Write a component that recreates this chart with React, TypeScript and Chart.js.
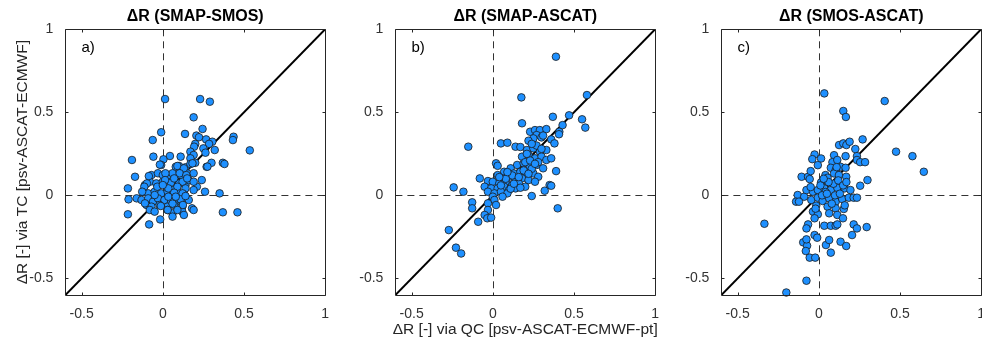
import { useEffect, useRef } from "react";
import { Chart, registerables } from "chart.js";
Chart.register(...registerables);

const FONT = "'Liberation Sans', Arial, Helvetica, sans-serif";

const tickValues = [-0.5, 0, 0.5, 1];
const axisMin = -0.6;
const axisMax = 1;
const panelTitles = ["ΔR (SMAP-SMOS)", "ΔR (SMAP-ASCAT)", "ΔR (SMOS-ASCAT)"];
const panelLetters = ["a)", "b)", "c)"];
const yAxisTitle = "ΔR [-] via TC [psv-ASCAT-ECMWF]";
const xAxisTitle = "ΔR [-] via QC [psv-ASCAT-ECMWF-pt]";

// Panel a) SMAP-SMOS
const smapSmosX = [
  0.014, 0.23, 0.29, 0.19, 0.245, -0.01, 0.137, 0.207, 0.223, 0.436, 0.432, -0.062, 0.267, 0.305, 0.285, 0.2, 0.32, 0.536, 0.193, 0.17, 0.25, 0.263, 0.19, -0.19, -0.058, 0.044, 0.004, 0.11, 0.17,
  -0.01, 0.08, 0.1, 0.14, 0.17, 0.2, 0.27, 0.3, 0.37, 0.38,
  -0.07, -0.03, 0, 0.03, 0.06, 0.11, 0.15, 0.19, 0.24, -0.171,
  -0.11, -0.08, -0.04, 0, 0.05, 0.1, 0.14, 0.16, 0.21,
  -0.12, -0.09, -0.05, -0.01, 0.03, 0.06, 0.09, 0.13, 0.19, 0.26, 0.35,
  -0.161, -0.131, -0.09, -0.06, -0.03, 0.01, 0.05, 0.08, 0.12, 0.16,
  -0.1, -0.07, -0.02, 0.03, 0.07, 0.12, 0.18, 0.19,
  -0.08, -0.05, 0.03, 0.06, 0.12,
  -0.215, -0.211, -0.215, -0.084, -0.016, 0.37, 0.46,
  0.275, 0.183, -0.018, 0.09, 0.13, -0.086, 0.016, 0.104, 0.145, 0.19, -0.098, 0.05, 0.122, -0.114, -0.034, 0.034, 0.09, 0.14, -0.127, 0.07, 0.122, 0.052, 0.11, -0.11, 0.06, 0.124, -0.012, 0.03, 0.09, 0.06, 0.13, -0.05, 0.034, 0.08, 0.14, 0.014, 0.07, 0.15, 0,
];
const smapSmosY = [
  0.58, 0.58, 0.564, 0.47, 0.4, 0.38, 0.37, 0.36, 0.35, 0.353, 0.333, 0.333, 0.337, 0.323, 0.31, 0.31, 0.273, 0.271, 0.293, 0.263, 0.283, 0.257, 0.243, 0.213, 0.233, 0.237, 0.217, 0.233, 0.223,
  0.183, 0.172, 0.177, 0.169, 0.189, 0.196, 0.172, 0.196, 0.196, 0.189,
  0.122, 0.133, 0.122, 0.112, 0.133, 0.122, 0.133, 0.133, 0.092, 0.112,
  0.062, 0.082, 0.072, 0.082, 0.082, 0.072, 0.062, 0.092, 0.052,
  0.022, 0.012, 0.022, 0.012, 0.022, 0.032, 0.022, 0.012, 0.032, 0.022, 0.012,
  -0.018, -0.028, -0.018, -0.038, -0.018, -0.028, -0.018, -0.038, -0.018, -0.028,
  -0.058, -0.068, -0.058, -0.068, -0.058, -0.068, -0.078, -0.088,
  -0.088, -0.098, -0.088, -0.108, -0.098,
  0.042, -0.024, -0.114, -0.175, -0.145, -0.102, -0.102,
  0.173, 0.193, 0.185, 0.177, 0.163, 0.116, 0.133, 0.133, 0.122, 0.082, 0.072, 0.076, 0.082, 0.052, 0.052, 0.042, 0.052, 0.042, 0.022, 0.016, 0.012, -0.034, -0.024, -0.048, -0.05, -0.058, -0.064, -0.088, -0.088, -0.128, -0.118, 0.002, -0.008, -0.008, -0.004, 0.092, 0.102, 0.102, 0.062,
];

// Panel b) SMAP-ASCAT
const smapAscatX = [
  0.23, 0.26, 0.29, 0.33, 0.27, 0.3, 0.25, 0.22, 0.36, 0.38, 0.41, 0.43, 0.47, 0.55, 0.57, 0.58, 0.389, 0.176, 0.18, 0.37, 0.05, 0.09, 0.14, 0.17, -0.151, 0.408,
  0.21, 0.25, 0.29, 0.33,
  0.18, 0.22, 0.26, 0.3, 0.33, 0.36,
  0.15, 0.19, 0.23, 0.27, 0.31, 0.11,
  0.07, 0.13, 0.17, 0.21, 0.25, 0.28, 0.39,
  0.03, 0.06, 0.1, 0.14, 0.18, 0.22, 0.26,
  0.02, 0.03, -0.08,
  -0.03, 0, 0.04, 0.08, 0.12, 0.16, 0.2, 0.35,
  -0.05, -0.01, 0.03, 0.07, 0.1, 0.14, 0.17,
  -0.03, 0.01, 0.05, 0.09, 0.06, 0,
  0.01, 0.02, -0.03, -0.03, -0.05, -0.034, -0.01, -0.09,
  -0.241, -0.181, -0.127, -0.127, -0.271, -0.227, -0.195,
  0.24, 0.32, 0.36, 0.4,
  0.12, 0.2, 0.23, 0.08, 0.16, 0.24, 0.28, 0.05, 0.11, 0.19, 0.21, 0.27, 0.24, 0.31, 0.13, 0.04, 0.09, 0.22, 0.26, 0.3,
];
const smapAscatY = [
  0.383, 0.393, 0.393, 0.399, 0.363, 0.349, 0.343, 0.329, 0.337, 0.313, 0.383, 0.423, 0.482, 0.458, 0.408, 0.604, 0.835, 0.59, 0.434, 0.473, 0.313, 0.317, 0.293, 0.291, 0.293, 0.368,
  0.273, 0.283, 0.263, 0.273,
  0.233, 0.243, 0.223, 0.233, 0.213, 0.223,
  0.183, 0.193, 0.173, 0.183, 0.163, 0.163,
  0.142, 0.132, 0.142, 0.122, 0.132, 0.112, 0.146,
  0.122, 0.102, 0.112, 0.092, 0.102, 0.092, 0.082,
  0.193, 0.178, 0.102,
  0.086, 0.082, 0.072, 0.082, 0.062, 0.072, 0.052, 0.062,
  0.052, 0.042, 0.042, 0.052, 0.032, 0.042, 0.046,
  0.022, 0.012, 0.022, 0.012, -0.008, -0.008,
  -0.028, -0.058, -0.048, -0.088, -0.118, -0.138, -0.134, -0.159,
  0.048, 0.022, -0.042, -0.078, -0.209, -0.315, -0.35,
  -0.004, 0.028, 0.058, -0.078,
  0.12, 0.2, 0.21, 0.1, 0.11, 0.16, 0.2, 0.06, 0.04, 0.15, 0.25, 0.3, 0.31, 0.36, 0.07, 0.11, 0.14, 0.13, 0.19, 0.28,
];

// Panel c) SMOS-ASCAT
const smosAscatX = [
  0.034, 0.406, 0.151, 0.167, 0.27,
  0.125, 0.151, 0.17, 0.19, 0.225, 0.165, 0.235,
  0.476, 0.577, 0.647,
  -0.026, -0.04, 0.014, -0.006, 0.094, 0.084, 0.114, 0.074, 0.104, 0.134, 0.165, 0.235, 0.255, 0.285,
  -0.106, -0.066, -0.05, 0.041, 0.094, 0.054, 0.124, 0.169, 0.3,
  -0.056, 0.014, 0.255,
  -0.13, -0.14, -0.09, -0.076, -0.036, -0.006, 0.034, 0.074, 0.114, 0.159, 0.195,
  -0.046, -0.006, 0.024, 0.064, 0.104, 0.144, 0.185, 0.215, 0.235,
  -0.016, 0.054, 0.104, 0.154,
  -0.036, -0.006, 0.064, 0.114, 0.149, -0.026,
  -0.066, 0.034, 0.074, 0.104, 0.114, 0.215, 0.235, 0.295,
  -0.335, -0.076, -0.026, -0.01, -0.096, -0.072, -0.08, -0.056, -0.022,
  0.044, 0.064, 0.074, 0.134, 0.169, 0.205, -0.076, -0.2,
  -0.122, -0.076, 0.042, 0.09, 0.06, 0.12, 0.02, 0.1, 0.15,
  0.01, 0.05, 0.13, 0.08, -0.02, 0.17, 0.03, 0.11, -0.05, 0.16,
];
const smosAscatY = [
  0.614, 0.568, 0.508, 0.472, 0.337,
  0.303, 0.313, 0.303, 0.323, 0.279, 0.236, 0.236,
  0.263, 0.236, 0.142,
  0.246, 0.218, 0.222, 0.182, 0.242, 0.2, 0.213, 0.166, 0.152, 0.172, 0.166, 0.213, 0.2, 0.2,
  0.112, 0.112, 0.146, 0.122, 0.132, 0.106, 0.122, 0.112, 0.092,
  0.098, 0.078, 0.058,
  0.002, -0.038, -0.008, 0.032, 0.022, 0.032, 0.042, 0.032, 0.046, 0.042, 0.032,
  -0.028, -0.014, -0.034, -0.018, -0.038, -0.022, -0.014, -0.014, -0.014,
  -0.062, -0.068, -0.078, -0.082,
  -0.098, -0.114, -0.108, -0.118, -0.138, -0.138,
  -0.175, -0.183, -0.183, -0.183, -0.175, -0.175, -0.199, -0.191,
  -0.171, -0.199, -0.239, -0.255, -0.283, -0.303, -0.335, -0.375, -0.375,
  -0.299, -0.269, -0.345, -0.279, -0.305, -0.239, -0.514, -0.585,
  -0.038, -0.265, 0.02, 0.07, 0.08, 0.09, 0.0, 0.0, 0.06,
  0.06, 0.01, 0.01, -0.05, -0.08, 0.08, 0.1, 0.17, 0.05, -0.06,
];

const panelXs = [smapSmosX, smapAscatX, smosAscatX];
const panelYs = [smapSmosY, smapAscatY, smosAscatY];
const panelLefts = [0, 330, 656];
const CANVAS_W = 340;
const CANVAS_H = 347;

function makeFramePlugin(idx: number) {
  return {
    id: "frame" + idx,
    beforeDatasetsDraw(chart: any) {
      const { ctx, chartArea: a, scales } = chart;
      const xs = scales.x;
      const ys = scales.y;
      ctx.save();
      ctx.beginPath();
      ctx.rect(a.left, a.top, a.right - a.left, a.bottom - a.top);
      ctx.clip();
      ctx.strokeStyle = "#333333";
      ctx.lineWidth = 1;
      ctx.setLineDash([7, 5]);
      const x0 = Math.round(xs.getPixelForValue(0)) + 0.5;
      const y0 = Math.round(ys.getPixelForValue(0)) + 0.5;
      ctx.beginPath();
      ctx.moveTo(x0, a.top);
      ctx.lineTo(x0, a.bottom);
      ctx.moveTo(a.left, y0);
      ctx.lineTo(a.right, y0);
      ctx.stroke();
      ctx.setLineDash([]);
      ctx.strokeStyle = "#000";
      ctx.lineWidth = 2;
      ctx.beginPath();
      ctx.moveTo(xs.getPixelForValue(axisMin), ys.getPixelForValue(axisMin));
      ctx.lineTo(xs.getPixelForValue(axisMax), ys.getPixelForValue(axisMax));
      ctx.stroke();
      ctx.restore();
    },
    afterDraw(chart: any) {
      const { ctx, chartArea: a, scales } = chart;
      const xs = scales.x;
      const ys = scales.y;
      ctx.save();
      const L = Math.round(a.left) + 0.5;
      const R = Math.round(a.right) + 0.5;
      const T = Math.round(a.top) + 0.5;
      const B = Math.round(a.bottom) + 0.5;
      ctx.strokeStyle = "#262626";
      ctx.lineWidth = 1;
      ctx.beginPath();
      ctx.rect(L, T, R - L, B - T);
      ctx.stroke();
      const tl = 3;
      ctx.beginPath();
      tickValues.forEach((v) => {
        const px = Math.round(xs.getPixelForValue(v)) + 0.5;
        ctx.moveTo(px, B);
        ctx.lineTo(px, B - tl);
        ctx.moveTo(px, T);
        ctx.lineTo(px, T + tl);
        const py = Math.round(ys.getPixelForValue(v)) + 0.5;
        ctx.moveTo(L, py);
        ctx.lineTo(L + tl, py);
        ctx.moveTo(R, py);
        ctx.lineTo(R - tl, py);
      });
      ctx.stroke();
      const cx = (a.left + a.right) / 2;
      ctx.fillStyle = "#000";
      ctx.font = "bold 16px " + FONT;
      ctx.textAlign = "center";
      ctx.textBaseline = "middle";
      ctx.fillText(panelTitles[idx], cx, 17);
      ctx.font = "15px " + FONT;
      ctx.textAlign = "left";
      ctx.fillText(panelLetters[idx], a.left + 16, 47.5);
      ctx.fillStyle = "#262626";
      ctx.font = "15.5px " + FONT;
      if (idx === 0) {
        ctx.save();
        ctx.translate(22.5, (a.top + a.bottom) / 2);
        ctx.rotate(-Math.PI / 2);
        ctx.textAlign = "center";
        ctx.textBaseline = "middle";
        ctx.fillText(yAxisTitle, 0, 0);
        ctx.restore();
      }
      if (idx === 1) {
        ctx.textAlign = "center";
        ctx.textBaseline = "middle";
        ctx.fillText(xAxisTitle, cx, 330);
      }
      ctx.restore();
    },
  };
}

function axisOptions(isX: boolean) {
  return {
    type: "linear",
    min: axisMin,
    max: axisMax,
    afterBuildTicks: (scale: any) => {
      scale.ticks = tickValues.map((v) => ({ value: v }));
    },
    afterFit: (scale: any) => {
      if (isX) scale.height = 30;
      else scale.width = 40;
    },
    grid: { display: false, drawTicks: false },
    border: { display: false },
    ticks: {
      font: { family: FONT, size: 14 },
      color: "#333333",
      padding: isX ? 11 : 12,
      maxRotation: 0,
      autoSkip: false,
      callback: (v: number) => String(v),
    },
  };
}

export default function App() {
  const refs = [useRef<HTMLCanvasElement>(null), useRef<HTMLCanvasElement>(null), useRef<HTMLCanvasElement>(null)];

  useEffect(() => {
    const charts: Chart[] = [];
    refs.forEach((r, idx) => {
      if (!r.current) return;
      const pts = panelXs[idx].map((x, i) => ({ x, y: panelYs[idx][i] }));
      const chart = new Chart(r.current, {
        type: "scatter",
        data: {
          datasets: [
            {
              data: pts,
              pointRadius: 3.8,
              pointBackgroundColor: "rgb(30,144,255)",
              pointBorderColor: "#1a1a1a",
              pointBorderWidth: 0.8,
              clip: false,
            } as any,
          ],
        },
        options: {
          animation: false,
          responsive: false,
          events: [],
          layout: { padding: { left: 25.4, right: 9, top: 29.3, bottom: 22 } },
          plugins: {
            legend: { display: false },
            tooltip: { enabled: false },
            title: { display: false },
          },
          scales: {
            x: axisOptions(true) as any,
            y: axisOptions(false) as any,
          },
        },
        plugins: [makeFramePlugin(idx)],
      });
      charts.push(chart);
    });
    return () => charts.forEach((c) => c.destroy());
  }, []);

  return (
    <div
      style={{
        position: "fixed",
        left: 0,
        top: 0,
        width: 982,
        height: 347,
        overflow: "hidden",
        background: "#fff",
      }}
    >
      {refs.map((r, idx) => (
        <canvas
          key={idx}
          ref={r}
          width={CANVAS_W}
          height={CANVAS_H}
          style={{ position: "absolute", left: panelLefts[idx], top: 0, width: CANVAS_W, height: CANVAS_H }}
        />
      ))}
    </div>
  );
}
